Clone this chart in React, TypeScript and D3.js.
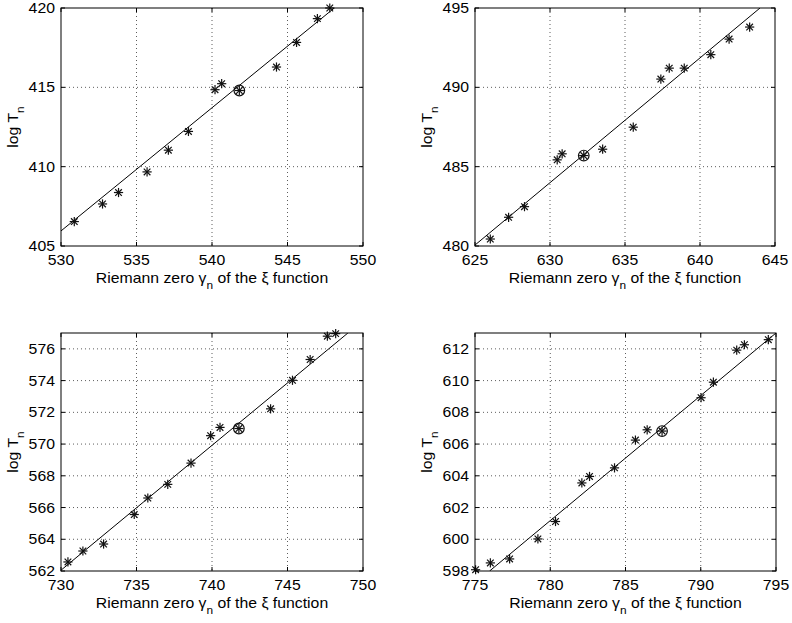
import React from "react";
import * as d3 from "d3";

// ---- data ----
const x1 = [530.88, 532.75, 533.81, 535.7, 537.11, 538.44, 540.2, 540.64, 541.81, 544.27, 545.6, 546.98, 547.8];
const y1 = [406.54, 407.65, 408.37, 409.67, 411.04, 412.22, 414.85, 415.23, 414.8, 416.28, 417.83, 419.33, 420.0];
const c1 = 8;
const line1 = [[530, 405.95], [548.1, 420]];
const xt1 = [530, 535, 540, 545, 550];
const yt1 = [405, 410, 415, 420];

const x2 = [626.02, 627.24, 628.3, 630.48, 630.81, 632.25, 633.51, 635.55, 637.39, 637.95, 638.95, 640.72, 641.94, 643.31];
const y2 = [480.44, 481.81, 482.48, 485.43, 485.81, 485.7, 486.1, 487.49, 490.52, 491.21, 491.21, 492.06, 493.04, 493.8];
const c2 = 5;
const line2 = [[625, 480.06], [644.0, 495]];
const xt2 = [625, 630, 635, 640, 645];
const yt2 = [480, 485, 490, 495];

const x3 = [730.46, 731.45, 732.82, 734.85, 735.75, 737.07, 738.61, 739.91, 740.53, 741.78, 743.88, 745.33, 746.5, 747.64, 748.19];
const y3 = [562.57, 563.26, 563.7, 565.56, 566.6, 567.46, 568.8, 570.53, 571.05, 570.98, 572.22, 574.02, 575.33, 576.8, 576.96];
const c3 = 9;
const line3 = [[730, 562.05], [749.0, 577]];
const xt3 = [730, 735, 740, 745, 750];
const yt3 = [562, 564, 566, 568, 570, 572, 574, 576];

const x4 = [775.04, 776.02, 777.3, 779.18, 780.35, 782.1, 782.61, 784.27, 785.66, 786.44, 787.43, 790.02, 790.84, 792.39, 792.9, 794.49];
const y4 = [598.08, 598.51, 598.76, 600.02, 601.12, 603.55, 603.96, 604.5, 606.25, 606.9, 606.82, 608.92, 609.9, 611.92, 612.26, 612.58];
const c4 = 10;
const line4 = [[775.97, 598], [795, 613]];
const xt4 = [775, 780, 785, 790, 795];
const yt4 = [598, 600, 602, 604, 606, 608, 610, 612];

const yDom = [[405, 420], [480, 495], [562, 577], [598, 613]];

const panels = [
  { xs: x1, ys: y1, c: c1, line: line1, xt: xt1, yt: yt1, yd: yDom[0], box: [61, 363, 8, 246] },
  { xs: x2, ys: y2, c: c2, line: line2, xt: xt2, yt: yt2, yd: yDom[1], box: [475, 775, 8, 246] },
  { xs: x3, ys: y3, c: c3, line: line3, xt: xt3, yt: yt3, yd: yDom[2], box: [61, 363, 333, 571] },
  { xs: x4, ys: y4, c: c4, line: line4, xt: xt4, yt: yt4, yd: yDom[3], box: [475, 776, 333, 571] },
];

const FONT = "'Liberation Sans', Arial, Helvetica, sans-serif";
const SX = 1.13;

function Star({ x, y, r = 4.6 }: { x: number; y: number; r?: number }) {
  const d = r * 0.72;
  return (
    <g stroke="#111" strokeWidth={1.2}>
      <line x1={x - r} y1={y} x2={x + r} y2={y} />
      <line x1={x} y1={y - r} x2={x} y2={y + r} />
      <line x1={x - d} y1={y - d} x2={x + d} y2={y + d} />
      <line x1={x - d} y1={y + d} x2={x + d} y2={y - d} />
    </g>
  );
}

function Panel({ p, idx }: { p: any; idx: number }) {
  const [L, R, T, B] = p.box;
  const xs = d3.scaleLinear().domain([p.xt[0], p.xt[p.xt.length - 1]]).range([L, R]);
  const ys = d3.scaleLinear().domain(p.yd).range([B, T]);
  const lineGen = d3.line<number[]>().x((d) => xs(d[0])).y((d) => ys(d[1]));
  const clipId = `clip${idx}`;
  const tl = 4;
  return (
    <g>
      <defs>
        <clipPath id={clipId}>
          <rect x={L} y={T} width={R - L} height={B - T} />
        </clipPath>
      </defs>
      <rect x={L} y={T} width={R - L} height={B - T} fill="#fff" />
      {/* grid */}
      <g stroke="#333" strokeWidth={0.8} strokeDasharray="1,3">
        {p.xt.slice(1, -1).map((t: number) => (
          <line key={"gx" + t} x1={xs(t)} x2={xs(t)} y1={T} y2={B} />
        ))}
        {p.yt.filter((t: number) => t > p.yd[0] && t < p.yd[1]).map((t: number) => (
          <line key={"gy" + t} x1={L} x2={R} y1={ys(t)} y2={ys(t)} />
        ))}
      </g>
      {/* ticks */}
      <g stroke="#000" strokeWidth={1}>
        {p.xt.map((t: number) => (
          <g key={"tx" + t}>
            <line x1={xs(t)} x2={xs(t)} y1={B} y2={B - tl} />
            <line x1={xs(t)} x2={xs(t)} y1={T} y2={T + tl} />
          </g>
        ))}
        {p.yt.map((t: number) => (
          <g key={"ty" + t}>
            <line x1={L} x2={L + tl} y1={ys(t)} y2={ys(t)} />
            <line x1={R} x2={R - tl} y1={ys(t)} y2={ys(t)} />
          </g>
        ))}
      </g>
      {/* fit line */}
      <path d={lineGen(p.line) || ""} stroke="#000" strokeWidth={1} fill="none" clipPath={`url(#${clipId})`} />
      {/* points */}
      {p.xs.map((x: number, i: number) => (
        <Star key={i} x={xs(x)} y={ys(p.ys[i])} />
      ))}
      <circle cx={xs(p.xs[p.c])} cy={ys(p.ys[p.c])} r={5.3} fill="none" stroke="#111" strokeWidth={1.2} />
      {/* box */}
      <rect x={L} y={T} width={R - L} height={B - T} fill="none" stroke="#000" strokeWidth={1} />
      {/* tick labels */}
      <g fontFamily={FONT} fontSize={14} fill="#000">
        {p.xt.map((t: number) => (
          <text key={"lx" + t} transform={`translate(${xs(t)},${B + 19}) scale(${SX},1)`} textAnchor="middle">
            {t}
          </text>
        ))}
        {p.yt.map((t: number) => (
          <text key={"ly" + t} transform={`translate(${L - 6},${ys(t) + 5}) scale(${SX},1)`} textAnchor="end">
            {t}
          </text>
        ))}
      </g>
      {/* axis titles */}
      <text
        transform={`translate(${(L + R) / 2},${B + 37}) scale(${SX},1)`}
        textAnchor="middle"
        fontFamily={FONT}
        fontSize={14}
        fill="#000"
      >
        Riemann zero γ<tspan dy={6} fontSize={10.5}>n</tspan>
        <tspan dy={-6}> of the ξ function</tspan>
      </text>
      <text
        transform={`translate(${L - 43},${(T + B) / 2}) rotate(-90) scale(${SX},1)`}
        textAnchor="middle"
        fontFamily={FONT}
        fontSize={14}
        fill="#000"
      >
        log T<tspan dy={6} fontSize={10.5}>n</tspan>
      </text>
    </g>
  );
}

export default function App() {
  return (
    <svg
      width={792}
      height={623}
      viewBox="0 0 792 623"
      style={{ position: "absolute", left: 0, top: 0, background: "#fff" }}
    >
      <rect width={792} height={623} fill="#fff" />
      {panels.map((p, i) => (
        <Panel key={i} p={p} idx={i} />
      ))}
    </svg>
  );
}
